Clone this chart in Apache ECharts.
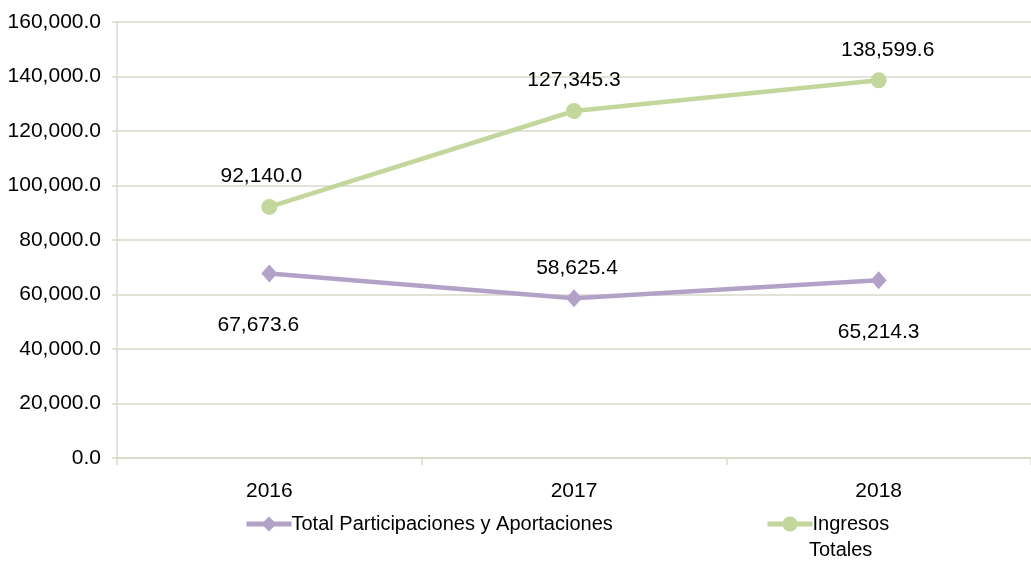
<!DOCTYPE html>
<html>
<head>
<meta charset="utf-8">
<script src="https://cdn.jsdelivr.net/npm/echarts@6/dist/echarts.min.js"></script>
<style>
  html, body { margin: 0; padding: 0; background: #fff; }
  #main { width: 1031px; height: 562px; }
</style>
</head>
<body>
<div id="main"></div>
<script>
var years = ['2016', '2017', '2018'];
var totalPart = [67673.6, 58625.4, 65214.3];
var ingresos = [92140.0, 127345.3, 138599.6];
// label placement per point: true = above, false = below
var totalAbove = [false, true, false];
var yTicks = { min: 0, max: 160000, interval: 20000 };

var myChart = echarts.init(document.getElementById('main'));
var font = 'Liberation Sans, Arial, sans-serif';
var gridColor = '#d9d9c9';

// small horizontal nudges of the value labels, as in the original
var totalShift = [-11, 3, 0];
var ingresosShift = [-8, 0, 9];

function fmt(v) {
  return Number(v).toLocaleString('en-US', { minimumFractionDigits: 1, maximumFractionDigits: 1 });
}

var totalData = totalPart.map(function(v, i) {
  return {
    value: v,
    label: totalAbove[i]
      ? { position: 'top', distance: 11, offset: [totalShift[i], 0] }
      : { position: 'bottom', distance: 32, offset: [totalShift[i], 0] }
  };
});

var ingresosData = ingresos.map(function(v, i) {
  return { value: v, label: { offset: [ingresosShift[i], 0] } };
});

var legendText = { fontSize: 20, color: '#000', fontFamily: font, padding: [0, 0, 0, -5] };

var option = {
  animation: false,
  textStyle: { fontFamily: font },
  grid: { left: 117, right: 0, top: 22, bottom: 104 },
  legend: [{
    left: 239, top: 509,
    itemWidth: 45, itemHeight: 19, itemGap: 0,
    lineStyle: { width: 5 },
    textStyle: legendText,
    data: ['Total Participaciones y Aportaciones']
  }, {
    left: 760, top: 509,
    itemWidth: 45, itemHeight: 19,
    lineStyle: { width: 5 },
    formatter: function() { return 'Ingresos'; },
    textStyle: legendText,
    data: ['Ingresos Totales']
  }],
  graphic: [{
    type: 'text', left: 809, top: 540,
    style: { text: 'Totales', fontSize: 20, fill: '#000', fontFamily: font }
  }],
  xAxis: {
    type: 'category',
    data: years,
    boundaryGap: true,
    axisLine: { lineStyle: { color: gridColor, width: 1.5 } },
    axisTick: { show: true, length: 7, lineStyle: { color: gridColor, width: 1.5 } },
    axisLabel: { fontSize: 21, color: '#000', margin: 23, fontFamily: font }
  },
  yAxis: {
    type: 'value',
    min: yTicks.min, max: yTicks.max, interval: yTicks.interval,
    axisLine: { show: true, lineStyle: { color: gridColor, width: 1.5 } },
    axisTick: { show: true, length: 5, lineStyle: { color: gridColor, width: 1.5 } },
    splitLine: { lineStyle: { color: gridColor, width: 1.5 } },
    axisLabel: { fontSize: 21, color: '#000', margin: 16, fontFamily: font, formatter: fmt }
  },
  series: [{
    name: 'Total Participaciones y Aportaciones',
    type: 'line',
    data: totalData,
    symbol: 'diamond',
    symbolSize: [16, 18],
    color: '#b3a2c7',
    lineStyle: { width: 4.5, color: '#b3a2c7' },
    itemStyle: { color: '#b3a2c7' },
    label: { show: true, fontSize: 21, color: '#000', fontFamily: font, formatter: function(p) { return fmt(p.value); } }
  }, {
    name: 'Ingresos Totales',
    type: 'line',
    data: ingresosData,
    symbol: 'circle',
    symbolSize: 16,
    color: '#c3d69b',
    lineStyle: { width: 4.5, color: '#c3d69b' },
    itemStyle: { color: '#c3d69b' },
    label: { show: true, position: 'top', distance: 12, fontSize: 21, color: '#000', fontFamily: font, formatter: function(p) { return fmt(p.value); } }
  }]
};
myChart.setOption(option);
</script>
</body>
</html>
